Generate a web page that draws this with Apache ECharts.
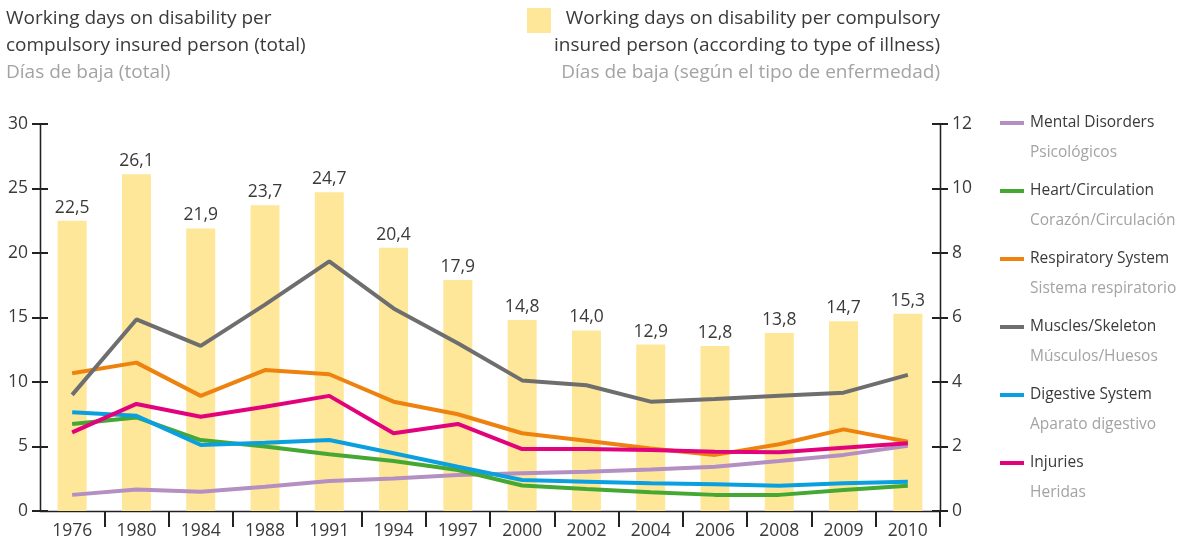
<!DOCTYPE html>
<html>
<head>
<meta charset="utf-8">
<script src="https://cdn.jsdelivr.net/npm/echarts@6/dist/echarts.min.js"></script>
<style>
html,body{margin:0;padding:0;background:#fff;}
#main{width:1184px;height:545px;}
</style>
</head>
<body>
<div id="main"></div>
<script>
// categories (years)
var years = ['1976','1980','1984','1988','1991','1994','1997','2000','2002','2004','2006','2008','2009','2010'];
// total days on disability (bars, left axis)
var totalDays = [22.5, 26.1, 21.9, 23.7, 24.7, 20.4, 17.9, 14.8, 14.0, 12.9, 12.8, 13.8, 14.7, 15.3];
// per type of illness (lines, right axis)
var mental      = [0.5, 0.67, 0.6, 0.75, 0.93, 1.01, 1.12, 1.17, 1.22, 1.29, 1.37, 1.55, 1.74, 2.02];
var heart       = [2.7, 2.9, 2.2, 2.0, 1.76, 1.55, 1.27, 0.79, 0.68, 0.58, 0.5, 0.5, 0.65, 0.78];
var respiratory = [4.27, 4.6, 3.57, 4.37, 4.24, 3.39, 3.0, 2.41, 2.18, 1.94, 1.74, 2.07, 2.53, 2.15];
var muscles     = [3.6, 5.94, 5.12, 6.4, 7.74, 6.28, 5.2, 4.05, 3.9, 3.39, 3.47, 3.57, 3.67, 4.22];
var digestive   = [3.06, 2.95, 2.05, 2.12, 2.2, 1.79, 1.37, 0.96, 0.91, 0.86, 0.83, 0.78, 0.86, 0.91];
var injuries    = [2.44, 3.32, 2.92, 3.23, 3.57, 2.41, 2.7, 1.92, 1.92, 1.89, 1.84, 1.82, 1.96, 2.1];

var namesEn = ['Mental Disorders','Heart/Circulation','Respiratory System','Muscles/Skeleton','Digestive System','Injuries'];
var namesEs = ['Psicológicos','Corazón/Circulación','Sistema respiratorio','Músculos/Huesos','Aparato digestivo','Heridas'];
var lineData = [mental, heart, respiratory, muscles, digestive, injuries];
var lineColors = ['#b48fc2','#45a832','#ee820f','#6e6e6e','#0aa0e0','#e2027b'];

var FONT = '"Open Sans", "Noto Sans", sans-serif';
var TXT = '#3a3a3a';
var GREY = '#a3a3a3';
var AX = '#222';

var myChart = echarts.init(document.getElementById('main'));

var series = [{
    name: 'total',
    type: 'bar',
    data: totalDays,
    barWidth: 29,
    yAxisIndex: 0,
    itemStyle: {color: '#fee799'},
    label: {
        show: true,
        position: 'top',
        distance: 4,
        color: TXT,
        fontFamily: FONT,
        fontSize: 17.5,
        formatter: function (p) { return p.value.toFixed(1).replace('.', ','); }
    },
    silent: true,
    z: 1
}];
for (var i = 0; i < lineData.length; i++) {
    series.push({
        name: namesEn[i],
        type: 'line',
        data: lineData[i],
        yAxisIndex: 1,
        symbol: 'none',
        lineStyle: {width: 4, color: lineColors[i]},
        itemStyle: {color: lineColors[i]},
        z: 3 + i
    });
}

var esMap = {};
for (var k = 0; k < namesEn.length; k++) { esMap[namesEn[k]] = namesEs[k]; }

function yAx(pos, max, interval, inside, showLabel) {
    return {
        type: 'value',
        position: pos,
        min: 0,
        max: max,
        interval: interval,
        splitLine: {show: false},
        axisLine: {show: true, lineStyle: {color: AX, width: 1.3}},
        axisTick: {show: true, inside: inside, length: 8, lineStyle: {color: AX, width: 2}},
        axisLabel: {show: showLabel, color: TXT, fontFamily: FONT, fontSize: 17.5, margin: 12}
    };
}

var legendText = {fontFamily: FONT, fontSize: 15.5, lineHeight: 20, padding: [0, 0, 0, 1]};

var option = {
    animation: false,
    textStyle: {fontFamily: FONT},
    grid: {left: 40, right: 244, top: 124, bottom: 34},
    xAxis: {
        type: 'category',
        data: years,
        boundaryGap: true,
        axisLine: {show: true, lineStyle: {color: AX, width: 1.3}},
        axisTick: {
            show: true, length: 16, lineStyle: {color: AX, width: 2},
            interval: function (idx) { return idx !== 0; }
        },
        axisLabel: {color: TXT, fontFamily: FONT, fontSize: 17.5, margin: 11}
    },
    yAxis: [
        yAx('left', 30, 5, false, true),
        yAx('right', 12, 2, false, true),
        yAx('left', 30, 5, true, false),
        yAx('right', 12, 2, true, false)
    ],
    legend: [{
        orient: 'vertical',
        left: 1000,
        top: 113,
        padding: 0,
        data: namesEn,
        icon: 'rect',
        itemWidth: 24,
        itemHeight: 4,
        itemGap: 48,
        selectedMode: false,
        textStyle: Object.assign({color: TXT}, legendText)
    }, {
        orient: 'vertical',
        left: 1000,
        top: 143,
        padding: 0,
        data: namesEn,
        icon: 'rect',
        itemWidth: 24,
        itemHeight: 4,
        itemGap: 48,
        selectedMode: false,
        itemStyle: {opacity: 0},
        formatter: function (n) { return esMap[n]; },
        textStyle: Object.assign({color: GREY}, legendText)
    }],
    graphic: [
        {type: 'text', left: 6, top: 9, style: {text: 'Working days on disability per', fill: TXT, font: '19px ' + FONT}},
        {type: 'text', left: 6, top: 36, style: {text: 'compulsory insured person (total)', fill: TXT, font: '19px ' + FONT}},
        {type: 'text', left: 6, top: 63, style: {text: 'Días de baja (total)', fill: GREY, font: '19px ' + FONT}},
        {type: 'rect', left: 527, top: 8, shape: {width: 24, height: 25}, style: {fill: '#fee799'}},
        {type: 'text', right: 244, top: 9, style: {text: 'Working days on disability per compulsory', fill: TXT, font: '19px ' + FONT}},
        {type: 'text', right: 244, top: 36, style: {text: 'insured person (according to type of illness)', fill: TXT, font: '19px ' + FONT}},
        {type: 'text', right: 244, top: 63, style: {text: 'Días de baja (según el tipo de enfermedad)', fill: GREY, font: '19px ' + FONT}}
    ],
    series: series
};

myChart.setOption(option);
</script>
</body>
</html>
